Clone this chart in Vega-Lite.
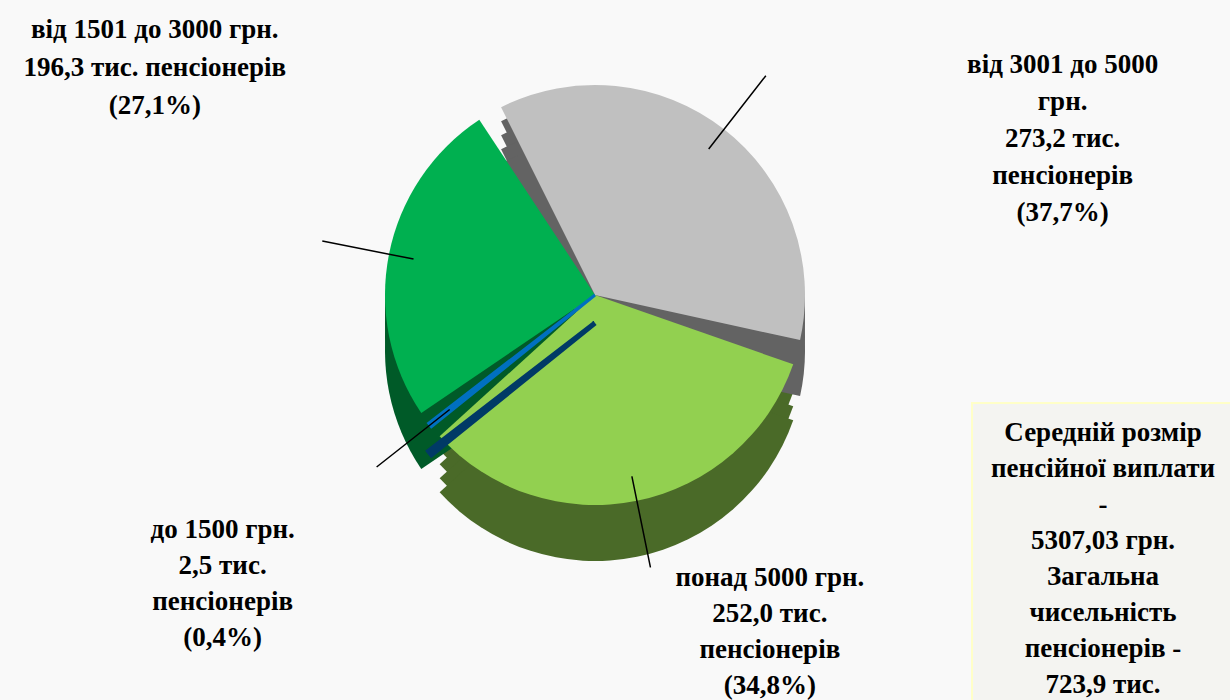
{
  "$schema": "https://vega.github.io/schema/vega-lite/v6.json",
  "background": "#F9F9F9",
  "padding": 0,
  "spacing": 0,
  "bounds": "flush",
  "config": {
    "view": {"stroke": null},
    "text": {"font": "Liberation Serif", "fontWeight": "bold", "fontSize": 27, "lineBreak": "\n", "color": "#000000"}
  },
  "hconcat": [
    {
      "width": 218, "height": 10,
      "data": {"values": [{"s": 0}]},
      "mark": {"type": "point", "opacity": 0}
    },
    {
      "width": 754, "height": 590,
      "data": {"values": [
        {"i": 1, "cat": "до 1500 грн.", "value": 2.5, "label": "до 1500 грн.\n2,5 тис.\nпенсіонерів\n(0,4%)"},
        {"i": 2, "cat": "від 1501 до 3000 грн.", "value": 196.3, "label": "від 1501 до 3000 грн.\n196,3 тис. пенсіонерів\n(27,1%)"},
        {"i": 3, "cat": "від 3001 до 5000 грн.", "value": 273.2, "label": "від 3001 до 5000\nгрн.\n273,2 тис.\nпенсіонерів\n(37,7%)"},
        {"i": 4, "cat": "понад 5000 грн.", "value": 252.0, "label": "понад 5000 грн.\n252,0 тис.\nпенсіонерів\n(34,8%)"}
      ]},
      "transform": [
        {"stack": "value", "groupby": [], "sort": [{"field": "i", "order": "ascending"}], "as": ["v0", "v1"]},
        {"fold": ["v0", "v1"], "as": ["k", "kv"]},
        {"joinaggregate": [{"op": "mean", "field": "kv", "as": "mid"}], "groupby": ["cat"]},
        {"filter": "datum.k == 'v0'"}
      ],
      "resolve": {"scale": {"color": "independent"}},
      "layer": [
        {
          "mark": {"type": "arc", "radius": 210, "padAngle": 0.12, "yOffset": 14},
          "encoding": {
            "theta": {"field": "v0", "type": "quantitative", "scale": {"domain": [0, 724], "range": [-2.2489, 4.0343]}},
            "theta2": {"field": "v1"},
            "color": {"field": "cat", "type": "nominal", "legend": null,
              "scale": {"domain": ["до 1500 грн.", "від 1501 до 3000 грн.", "від 3001 до 5000 грн.", "понад 5000 грн."], "range": ["#003A66", "#005A28", "#636363", "#4A6A28"]}}
          }
        },
        {
          "mark": {"type": "arc", "radius": 210, "padAngle": 0.12, "yOffset": 28},
          "encoding": {
            "theta": {"field": "v0", "type": "quantitative", "scale": {"domain": [0, 724], "range": [-2.2489, 4.0343]}},
            "theta2": {"field": "v1"},
            "color": {"field": "cat", "type": "nominal", "legend": null,
              "scale": {"domain": ["до 1500 грн.", "від 1501 до 3000 грн.", "від 3001 до 5000 грн.", "понад 5000 грн."], "range": ["#003A66", "#005A28", "#636363", "#4A6A28"]}}
          }
        },
        {
          "mark": {"type": "arc", "radius": 210, "padAngle": 0.12, "yOffset": 42},
          "encoding": {
            "theta": {"field": "v0", "type": "quantitative", "scale": {"domain": [0, 724], "range": [-2.2489, 4.0343]}},
            "theta2": {"field": "v1"},
            "color": {"field": "cat", "type": "nominal", "legend": null,
              "scale": {"domain": ["до 1500 грн.", "від 1501 до 3000 грн.", "від 3001 до 5000 грн.", "понад 5000 грн."], "range": ["#003A66", "#005A28", "#636363", "#4A6A28"]}}
          }
        },
        {
          "mark": {"type": "arc", "radius": 210, "padAngle": 0.12, "yOffset": 56},
          "encoding": {
            "theta": {"field": "v0", "type": "quantitative", "scale": {"domain": [0, 724], "range": [-2.2489, 4.0343]}},
            "theta2": {"field": "v1"},
            "color": {"field": "cat", "type": "nominal", "legend": null,
              "scale": {"domain": ["до 1500 грн.", "від 1501 до 3000 грн.", "від 3001 до 5000 грн.", "понад 5000 грн."], "range": ["#003A66", "#005A28", "#636363", "#4A6A28"]}}
          }
        },
        {
          "mark": {"type": "arc", "radius": 210, "padAngle": 0.12},
          "encoding": {
            "theta": {"field": "v0", "type": "quantitative", "scale": {"domain": [0, 724], "range": [-2.2489, 4.0343]}},
            "theta2": {"field": "v1"},
            "color": {"field": "cat", "type": "nominal", "legend": null,
              "scale": {"domain": ["до 1500 грн.", "від 1501 до 3000 грн.", "від 3001 до 5000 грн.", "понад 5000 грн."], "range": ["#0070C0", "#00B050", "#C0C0C0", "#92D050"]}}
          }
        },
        {
          "transform": [{"filter": "datum.cat == 'до 1500 грн.'"}],
          "mark": {"type": "arc", "radius": 210, "yOffset": 28, "stroke": "#003A66", "strokeWidth": 5, "fill": "#003A66"},
          "encoding": {
            "theta": {"field": "v0", "type": "quantitative", "scale": {"domain": [0, 724], "range": [-2.2489, 4.0343]}},
            "theta2": {"field": "v1"}
          }
        },
        {
          "transform": [{"filter": "datum.cat == 'до 1500 грн.'"}],
          "mark": {"type": "arc", "radius": 210, "stroke": "#0070C0", "strokeWidth": 3, "fill": "#0070C0"},
          "encoding": {
            "theta": {"field": "v0", "type": "quantitative", "scale": {"domain": [0, 724], "range": [-2.2489, 4.0343]}},
            "theta2": {"field": "v1"}
          }
        },
        {
          "mark": {"type": "arc", "radius": 278, "radius2": 185, "stroke": "#000000", "strokeWidth": 1.5, "fillOpacity": 0},
          "encoding": {
            "theta": {"field": "mid", "type": "quantitative", "scale": {"domain": [0, 724], "range": [-2.2489, 4.0343]}},
            "theta2": {"field": "mid"}
          }
        },
        {
          "transform": [{"filter": "datum.cat == 'від 1501 до 3000 грн.'"}],
          "mark": {"type": "text", "radius": 250, "dx": -195, "dy": -216, "lineHeight": 38, "align": "center", "baseline": "middle"},
          "encoding": {
            "theta": {"field": "mid", "type": "quantitative", "scale": {"domain": [0, 724], "range": [-2.2489, 4.0343]}},
            "text": {"field": "label"}
          }
        },
        {
          "transform": [{"filter": "datum.cat == 'від 3001 до 5000 грн.'"}],
          "mark": {"type": "text", "radius": 250, "dx": 314, "dy": -33, "lineHeight": 37, "align": "center", "baseline": "middle"},
          "encoding": {
            "theta": {"field": "mid", "type": "quantitative", "scale": {"domain": [0, 724], "range": [-2.2489, 4.0343]}},
            "text": {"field": "label"}
          }
        },
        {
          "transform": [{"filter": "datum.cat == 'до 1500 грн.'"}],
          "mark": {"type": "text", "radius": 250, "dx": -176, "dy": 80, "lineHeight": 36, "align": "center", "baseline": "middle"},
          "encoding": {
            "theta": {"field": "mid", "type": "quantitative", "scale": {"domain": [0, 724], "range": [-2.2489, 4.0343]}},
            "text": {"field": "label"}
          }
        },
        {
          "transform": [{"filter": "datum.cat == 'понад 5000 грн.'"}],
          "mark": {"type": "text", "radius": 250, "dx": 125, "dy": 38, "lineHeight": 36, "align": "center", "baseline": "middle"},
          "encoding": {
            "theta": {"field": "mid", "type": "quantitative", "scale": {"domain": [0, 724], "range": [-2.2489, 4.0343]}},
            "text": {"field": "label"}
          }
        }
      ]
    },
    {
      "spacing": 0,
      "bounds": "flush",
      "vconcat": [
        {
          "width": 270, "height": 403,
          "data": {"values": [{"s": 0}]},
          "mark": {"type": "point", "opacity": 0}
        },
        {
          "width": 270, "height": 330,
          "view": {"fill": "#F4F4F1", "stroke": "#FFFFC8", "strokeWidth": 2},
          "data": {"values": [{"t": "Середній розмір\nпенсійної виплати\n-\n5307,03 грн.\nЗагальна\nчисельність\nпенсіонерів -\n723,9 тис."}]},
          "mark": {"type": "text", "lineHeight": 36, "align": "center", "baseline": "middle", "dx": -4, "dy": -135},
          "encoding": {"text": {"field": "t"}}
        }
      ]
    }
  ]
}
